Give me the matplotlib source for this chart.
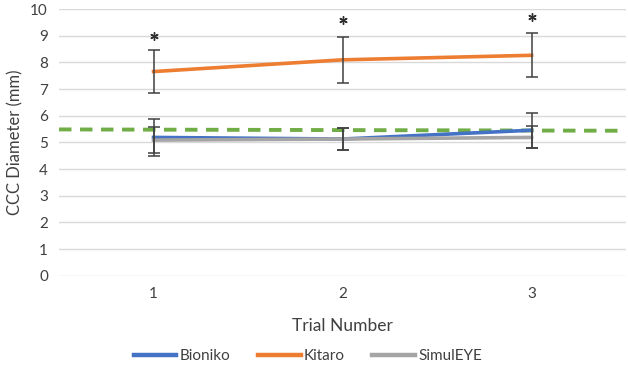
import numpy as np
import matplotlib.pyplot as plt

trials = ["1", "2", "3"]
bioniko = [5.19, 5.13, 5.46]
bioniko_err = [0.70, 0.42, 0.65]
kitaro = [7.66, 8.10, 8.27]
kitaro_err = [0.79, 0.87, 0.83]
simuleye = [5.09, 5.13, 5.19]
simuleye_err = [0.50, 0.42, 0.41]
ref_line = [5.49, 5.44]
star_pos = [9.0, 9.6, 9.7]

plt.rcParams['font.family'] = ['Lato', 'DejaVu Sans']

fig = plt.figure(figsize=(6.28, 3.82), dpi=100)
ax = fig.add_axes([0.094, 0.278, 0.903, 0.698])

x = np.arange(1, len(trials) + 1)
ax.plot([0.5, 3.5], ref_line, color='#70ad47', lw=2.8, ls=(0, (3.2, 2.2)), zorder=2)

for y, err, c, lab in [(bioniko, bioniko_err, '#4472c4', 'Bioniko'),
                       (kitaro, kitaro_err, '#ed7d31', 'Kitaro'),
                       (simuleye, simuleye_err, '#a5a5a5', 'SimulEYE')]:
    ax.plot(x, y, color=c, lw=2.6, label=lab, zorder=3)
    ax.errorbar(x, y, yerr=err, fmt='none', ecolor='#404040', elinewidth=1.1,
                capsize=4, capthick=1.1, zorder=4)

# significance asterisks
ax.plot(x, star_pos, ls='none', marker=(6, 2, 0), ms=6, mew=1.0, color='#303030')

ax.set_xlim(0.5, 3.5)
ax.set_ylim(0, 10)
ax.set_yticks(range(0, 11))
ax.set_xticks(x)
ax.set_xticklabels(trials)
ax.grid(axis='y', color='#d9d9d9', lw=1)
ax.set_axisbelow(True)
for s in ax.spines.values():
    s.set_visible(False)
ax.tick_params(length=0, labelsize=11, colors='#404040', pad=8)
ax.set_xlabel("Trial Number", fontsize=12.5, color='#404040', labelpad=12)
ax.set_ylabel("CCC Diameter (mm)", fontsize=12, color='#404040', labelpad=5)

leg = fig.legend(loc='center', bbox_to_anchor=(0.49, 0.068), ncol=3, frameon=False,
                 fontsize=11, handlelength=2.8, handletextpad=0.2, columnspacing=1.8,
                 labelcolor='#404040')
for l in leg.get_lines():
    l.set_linewidth(3.2)

fig.savefig("out.png", dpi=100)
